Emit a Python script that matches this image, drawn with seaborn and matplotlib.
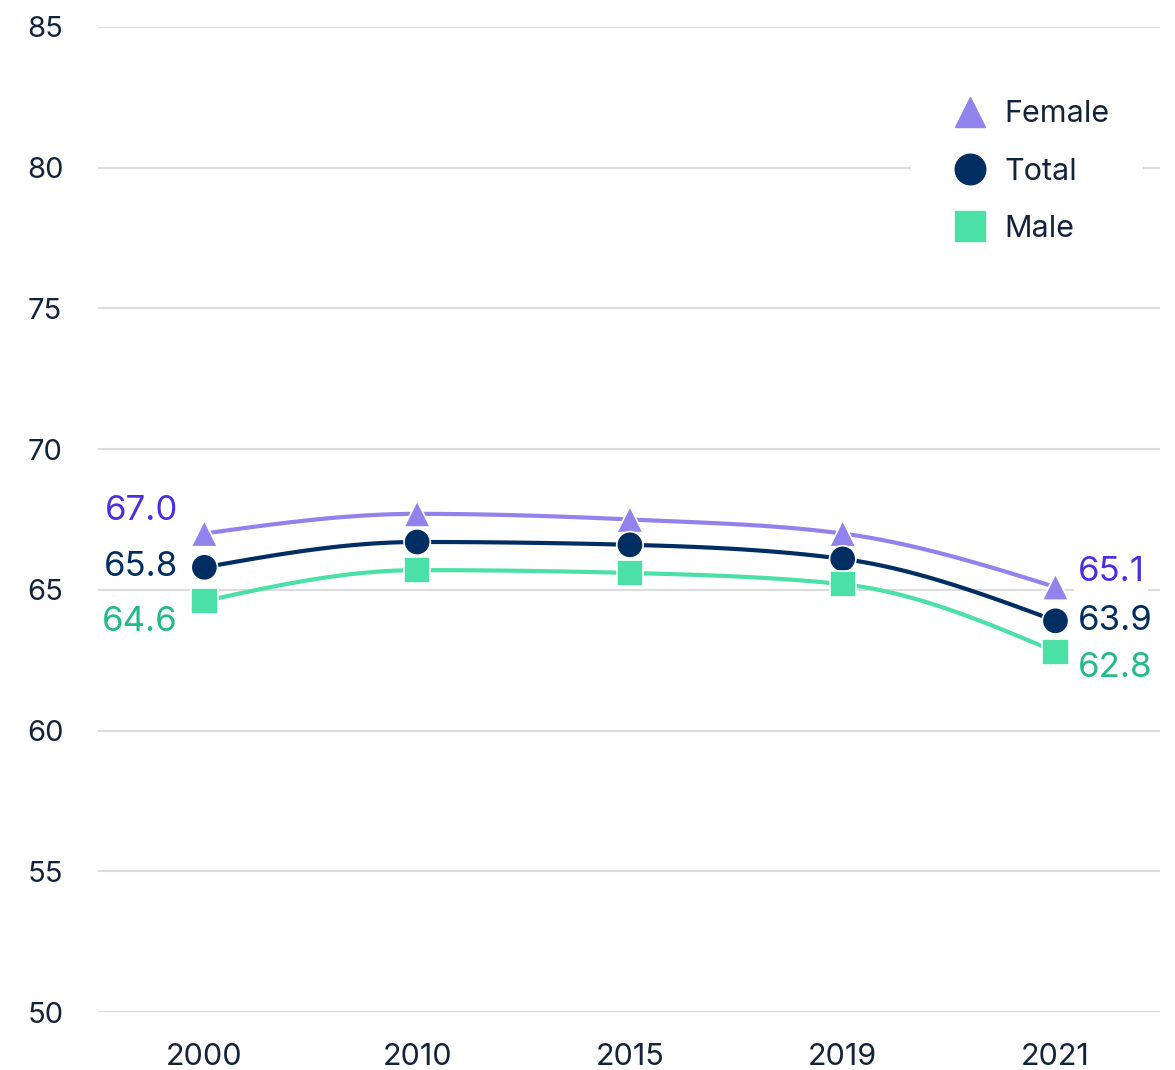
import numpy as np
import pandas as pd
import seaborn as sns
import matplotlib.pyplot as plt
from matplotlib.lines import Line2D

years = ["2000", "2010", "2015", "2019", "2021"]
female = [67.0, 67.7, 67.5, 67.0, 65.1]
total = [65.8, 66.7, 66.6, 66.1, 63.9]
male = [64.6, 65.7, 65.6, 65.2, 62.8]

series_names = ["Female", "Total", "Male"]
line_colors = {"Female": "#9283ec", "Total": "#002e62", "Male": "#4be0a8"}
label_colors = {"Female": "#4a2fe0", "Total": "#002e62", "Male": "#22bb86"}
markers = {"Female": "^", "Total": "o", "Male": "s"}
# vertical offsets (pt) of the end labels, left / right side
left_dy = {"Female": 16, "Total": 0, "Male": -15}
right_dy = {"Female": 11, "Total": 0, "Male": -12}

sns.set_theme(style="white")
plt.rcParams['font.family'] = ['Inter', 'DejaVu Sans']

df = pd.DataFrame({
    "year": years * 3,
    "value": female + total + male,
    "series": ["Female"] * 5 + ["Total"] * 5 + ["Male"] * 5,
})
df["pos"] = df["year"].map({y: i for i, y in enumerate(years)})


def monotone_curve(x, y, n=30):
    # monotone cubic (like d3 curveMonotoneX)
    x = np.asarray(x, float)
    y = np.asarray(y, float)
    h = np.diff(x)
    s = np.diff(y) / h
    m = np.zeros_like(y)
    for i in range(1, len(y) - 1):
        p = (s[i - 1] * h[i] + s[i] * h[i - 1]) / (h[i - 1] + h[i])
        m[i] = (np.sign(s[i - 1]) + np.sign(s[i])) * min(abs(s[i - 1]), abs(s[i]), 0.5 * abs(p))
    m[0] = (3 * s[0] - m[1]) / 2
    m[-1] = (3 * s[-1] - m[-2]) / 2
    xs, ys = [], []
    for i in range(len(h)):
        t = np.linspace(0, 1, n)
        h00 = 2 * t**3 - 3 * t**2 + 1
        h10 = t**3 - 2 * t**2 + t
        h01 = -2 * t**3 + 3 * t**2
        h11 = t**3 - t**2
        xs.append(x[i] + t * h[i])
        ys.append(h00 * y[i] + h10 * h[i] * m[i] + h01 * y[i + 1] + h11 * h[i] * m[i + 1])
    return np.concatenate(xs), np.concatenate(ys)


fig = plt.figure(figsize=(11.75, 10.7), dpi=100)
ax = fig.add_axes([0.0834, 0.0542, 0.9036, 0.9206])

for name in series_names:
    d = df[df["series"] == name]
    cx, cy = monotone_curve(d["pos"], d["value"])
    ax.plot(cx, cy, color=line_colors[name], lw=3.0, zorder=3, solid_capstyle="round")

sns.scatterplot(data=df, x="pos", y="value", hue="series", style="series",
                palette=line_colors, markers=markers, s=360,
                edgecolor="white", linewidth=1.2, legend=False, zorder=4, ax=ax)

for name in series_names:
    d = df[df["series"] == name]
    v0, v1 = d["value"].iloc[0], d["value"].iloc[-1]
    ax.annotate(f"{v0:.1f}", (0, v0), xytext=(-19, left_dy[name]),
                textcoords="offset points", ha="right", va="center",
                fontsize=25, color=label_colors[name], zorder=5,
                bbox=dict(boxstyle="square,pad=0.1", fc="white", ec="none"))
    ax.annotate(f"{v1:.1f}", (4, v1), xytext=(16, right_dy[name]),
                textcoords="offset points", ha="left", va="center",
                fontsize=25, color=label_colors[name], zorder=5,
                bbox=dict(boxstyle="square,pad=0.1", fc="white", ec="none"))

ax.set_xlim(-0.5, 4.49)
ax.set_ylim(50, 85)
ax.set_yticks(range(50, 86, 5))
ax.set_xticks(range(len(years)))
ax.set_xticklabels(years)
ax.grid(axis="y", color="#dcdcdc", lw=1.5)
ax.set_axisbelow(True)
for sp in ax.spines.values():
    sp.set_visible(False)
ax.tick_params(axis="both", length=0, labelsize=21, colors="#13233a")
ax.tick_params(axis="x", labelsize=22, pad=22)
ax.tick_params(axis="y", pad=51)
for lbl in ax.get_yticklabels():
    lbl.set_horizontalalignment("left")
ax.set_xlabel("")
ax.set_ylabel("")

handles = [Line2D([], [], ls="none", marker=markers[n], color=line_colors[n],
                  markeredgecolor=line_colors[n], markersize=22) for n in series_names]
leg = ax.legend(handles, series_names, loc="upper right", bbox_to_anchor=(0.999, 0.975),
                frameon=True, fontsize=22, labelspacing=0.95, handletextpad=0.35,
                borderpad=1.1, handlelength=1.6)
leg.get_frame().set_facecolor("white")
leg.get_frame().set_edgecolor("none")
leg.get_frame().set_alpha(1)
for t in leg.get_texts():
    t.set_color("#13233a")

fig.savefig("out.png", dpi=100)
